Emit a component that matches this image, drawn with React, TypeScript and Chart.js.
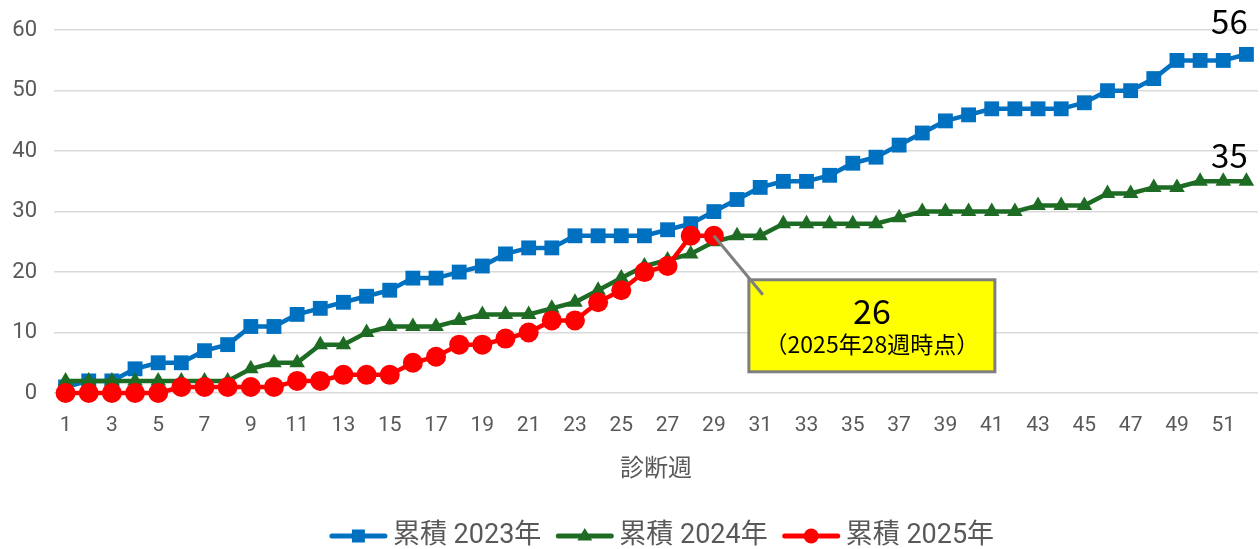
import React, { useEffect, useRef } from 'react';
import { Chart, registerables } from 'chart.js';

Chart.register(...registerables);

const weeks = ['1','2','3','4','5','6','7','8','9','10','11','12','13','14','15','16','17','18','19','20','21','22','23','24','25','26','27','28','29','30','31','32','33','34','35','36','37','38','39','40','41','42','43','44','45','46','47','48','49','50','51','52'];
const cum2023 = [1,2,2,4,5,5,7,8,11,11,13,14,15,16,17,19,19,20,21,23,24,24,26,26,26,26,27,28,30,32,34,35,35,36,38,39,41,43,45,46,47,47,47,47,48,50,50,52,55,55,55,56];
const cum2024 = [2,2,2,2,2,2,2,2,4,5,5,8,8,10,11,11,11,12,13,13,13,14,15,17,19,21,22,23,25,26,26,28,28,28,28,28,29,30,30,30,30,30,31,31,31,33,33,34,34,35,35,35];
const cum2025 = [0,0,0,0,0,1,1,1,1,1,2,2,3,3,3,5,6,8,8,9,10,12,12,15,17,20,21,26,26];
const yTickValues = [0, 10, 20, 30, 40, 50, 60];
const seriesNames = ['累積 2023年', '累積 2024年', '累積 2025年'];
const seriesColors = ['#0070C0', '#1E6B24', '#FF0000'];
const seriesPointStyles = ['rect', 'triangle', 'circle'];
const seriesPointRadius = [10.5, 9, 10];
const xAxisTitle = '診断週';
const calloutValue = '26';
const calloutNote = '（2025年28週時点）';

const FONT = 'Roboto, "Noto Sans CJK JP", sans-serif';
const JFONT = '"Noto Sans CJK JP", sans-serif';

const overlayPlugin = {
  id: 'overlay',
  afterDatasetsDraw(chart: any) {
    const ctx = chart.ctx;
    ctx.save();
    [0, 1].forEach((di) => {
      const meta = chart.getDatasetMeta(di);
      const data = chart.data.datasets[di].data;
      const last = meta.data[data.length - 1];
      ctx.font = `33px ${JFONT}`;
      ctx.fillStyle = '#000000';
      ctx.textAlign = 'center';
      ctx.textBaseline = 'middle';
      const dy = di === 0 ? -33 : -26;
      ctx.fillText(String(data[data.length - 1]), last.x - 17, last.y + dy);
    });
    const meta2 = chart.getDatasetMeta(2);
    const p = meta2.data[cum2025.length - 1];
    const bx = p.x + 35;
    const by = p.y + 44;
    const bw = 246;
    const bh = 92;
    ctx.fillStyle = '#FFFF00';
    ctx.fillRect(bx, by, bw, bh);
    ctx.strokeStyle = '#7F7F7F';
    ctx.lineWidth = 3;
    ctx.strokeRect(bx, by, bw, bh);
    ctx.beginPath();
    ctx.moveTo(p.x, p.y);
    ctx.lineTo(p.x + 49, p.y + 59);
    ctx.stroke();
    ctx.fillStyle = '#000000';
    ctx.textAlign = 'center';
    ctx.textBaseline = 'middle';
    ctx.font = `34px ${JFONT}`;
    ctx.fillText(calloutValue, bx + bw / 2, by + 31);
    ctx.font = `23px ${JFONT}`;
    ctx.fillText(calloutNote, bx + bw / 2, by + 64);
    ctx.restore();
  },
  afterDraw(chart: any) {
    const ctx = chart.ctx;
    ctx.save();
    ctx.font = `27px ${FONT}`;
    const lineW = 57;
    const gapText = 6;
    const gapItem = 15;
    const widths = seriesNames.map((n) => lineW + gapText + ctx.measureText(n).width);
    const total = widths.reduce((a, b) => a + b, 0) + gapItem * (seriesNames.length - 1);
    const ca = chart.chartArea;
    let x = (ca.left + ca.right) / 2 + 6 - total / 2;
    const y = 536;
    seriesNames.forEach((name, i) => {
      ctx.strokeStyle = seriesColors[i];
      ctx.lineWidth = 5;
      ctx.lineCap = 'round';
      ctx.beginPath();
      ctx.moveTo(x + 2, y);
      ctx.lineTo(x + lineW - 2, y);
      ctx.stroke();
      ctx.fillStyle = seriesColors[i];
      const cx = x + lineW / 2;
      if (i === 0) {
        ctx.fillRect(cx - 6.5, y - 6.5, 13, 13);
      } else if (i === 1) {
        ctx.beginPath();
        ctx.moveTo(cx, y - 8);
        ctx.lineTo(cx + 7.5, y + 4.5);
        ctx.lineTo(cx - 7.5, y + 4.5);
        ctx.closePath();
        ctx.fill();
      } else {
        ctx.beginPath();
        ctx.arc(cx, y, 7.5, 0, Math.PI * 2);
        ctx.fill();
      }
      ctx.fillStyle = '#595959';
      ctx.textAlign = 'left';
      ctx.textBaseline = 'middle';
      ctx.fillText(name, x + lineW + gapText, y);
      x += widths[i] + gapItem;
    });
    ctx.restore();
  },
};

export default function App() {
  const ref = useRef<HTMLCanvasElement | null>(null);
  useEffect(() => {
    document.body.style.margin = '0';
    const seriesData = [cum2023, cum2024, cum2025];
    const chart = new Chart(ref.current as HTMLCanvasElement, {
      type: 'line',
      data: {
        labels: weeks,
        datasets: seriesData.map((d, i) => ({
          label: seriesNames[i],
          data: d,
          borderColor: seriesColors[i],
          backgroundColor: seriesColors[i],
          borderWidth: 4.5,
          pointStyle: seriesPointStyles[i] as any,
          pointRadius: seriesPointRadius[i],
          pointBorderWidth: 0,
          pointBackgroundColor: seriesColors[i],
          tension: 0,
          clip: false,
          order: 2 - i,
        })),
      },
      options: {
        animation: false,
        responsive: false,
        layout: { autoPadding: false, padding: { top: 30, right: 2, left: 0, bottom: 68 } },
        plugins: { legend: { display: false }, tooltip: { enabled: false } },
        scales: {
          x: {
            type: 'category',
            offset: true,
            grid: { display: false, drawTicks: false },
            border: { display: false },
            ticks: {
              autoSkip: false,
              maxRotation: 0,
              padding: 20,
              color: '#595959',
              font: { family: FONT, size: 21 },
              callback: (v: any, i: number) => (i % 2 === 0 ? weeks[i] : ''),
            },
            title: {
              display: true,
              text: xAxisTitle,
              color: '#595959',
              font: { family: JFONT, size: 24 },
              padding: 0,
            },
            afterFit: (s: any) => { s.height = 88; s.paddingLeft = 0; s.paddingRight = 0; },
          },
          y: {
            min: 0,
            max: 60,
            afterBuildTicks: (s: any) => { s.ticks = yTickValues.map((v) => ({ value: v })); },
            grid: { color: '#D9D9D9', lineWidth: 1.5, drawTicks: false },
            border: { display: false },
            ticks: {
              padding: 17,
              color: '#595959',
              font: { family: FONT, size: 22 },
            },
            afterFit: (s: any) => { s.width = 54; },
          },
        },
      },
      plugins: [overlayPlugin],
    });
    return () => chart.destroy();
  }, []);
  return (
    <div style={{ width: 1260, height: 549 }}>
      <canvas ref={ref} width={1260} height={549} style={{ display: 'block' }} />
    </div>
  );
}
